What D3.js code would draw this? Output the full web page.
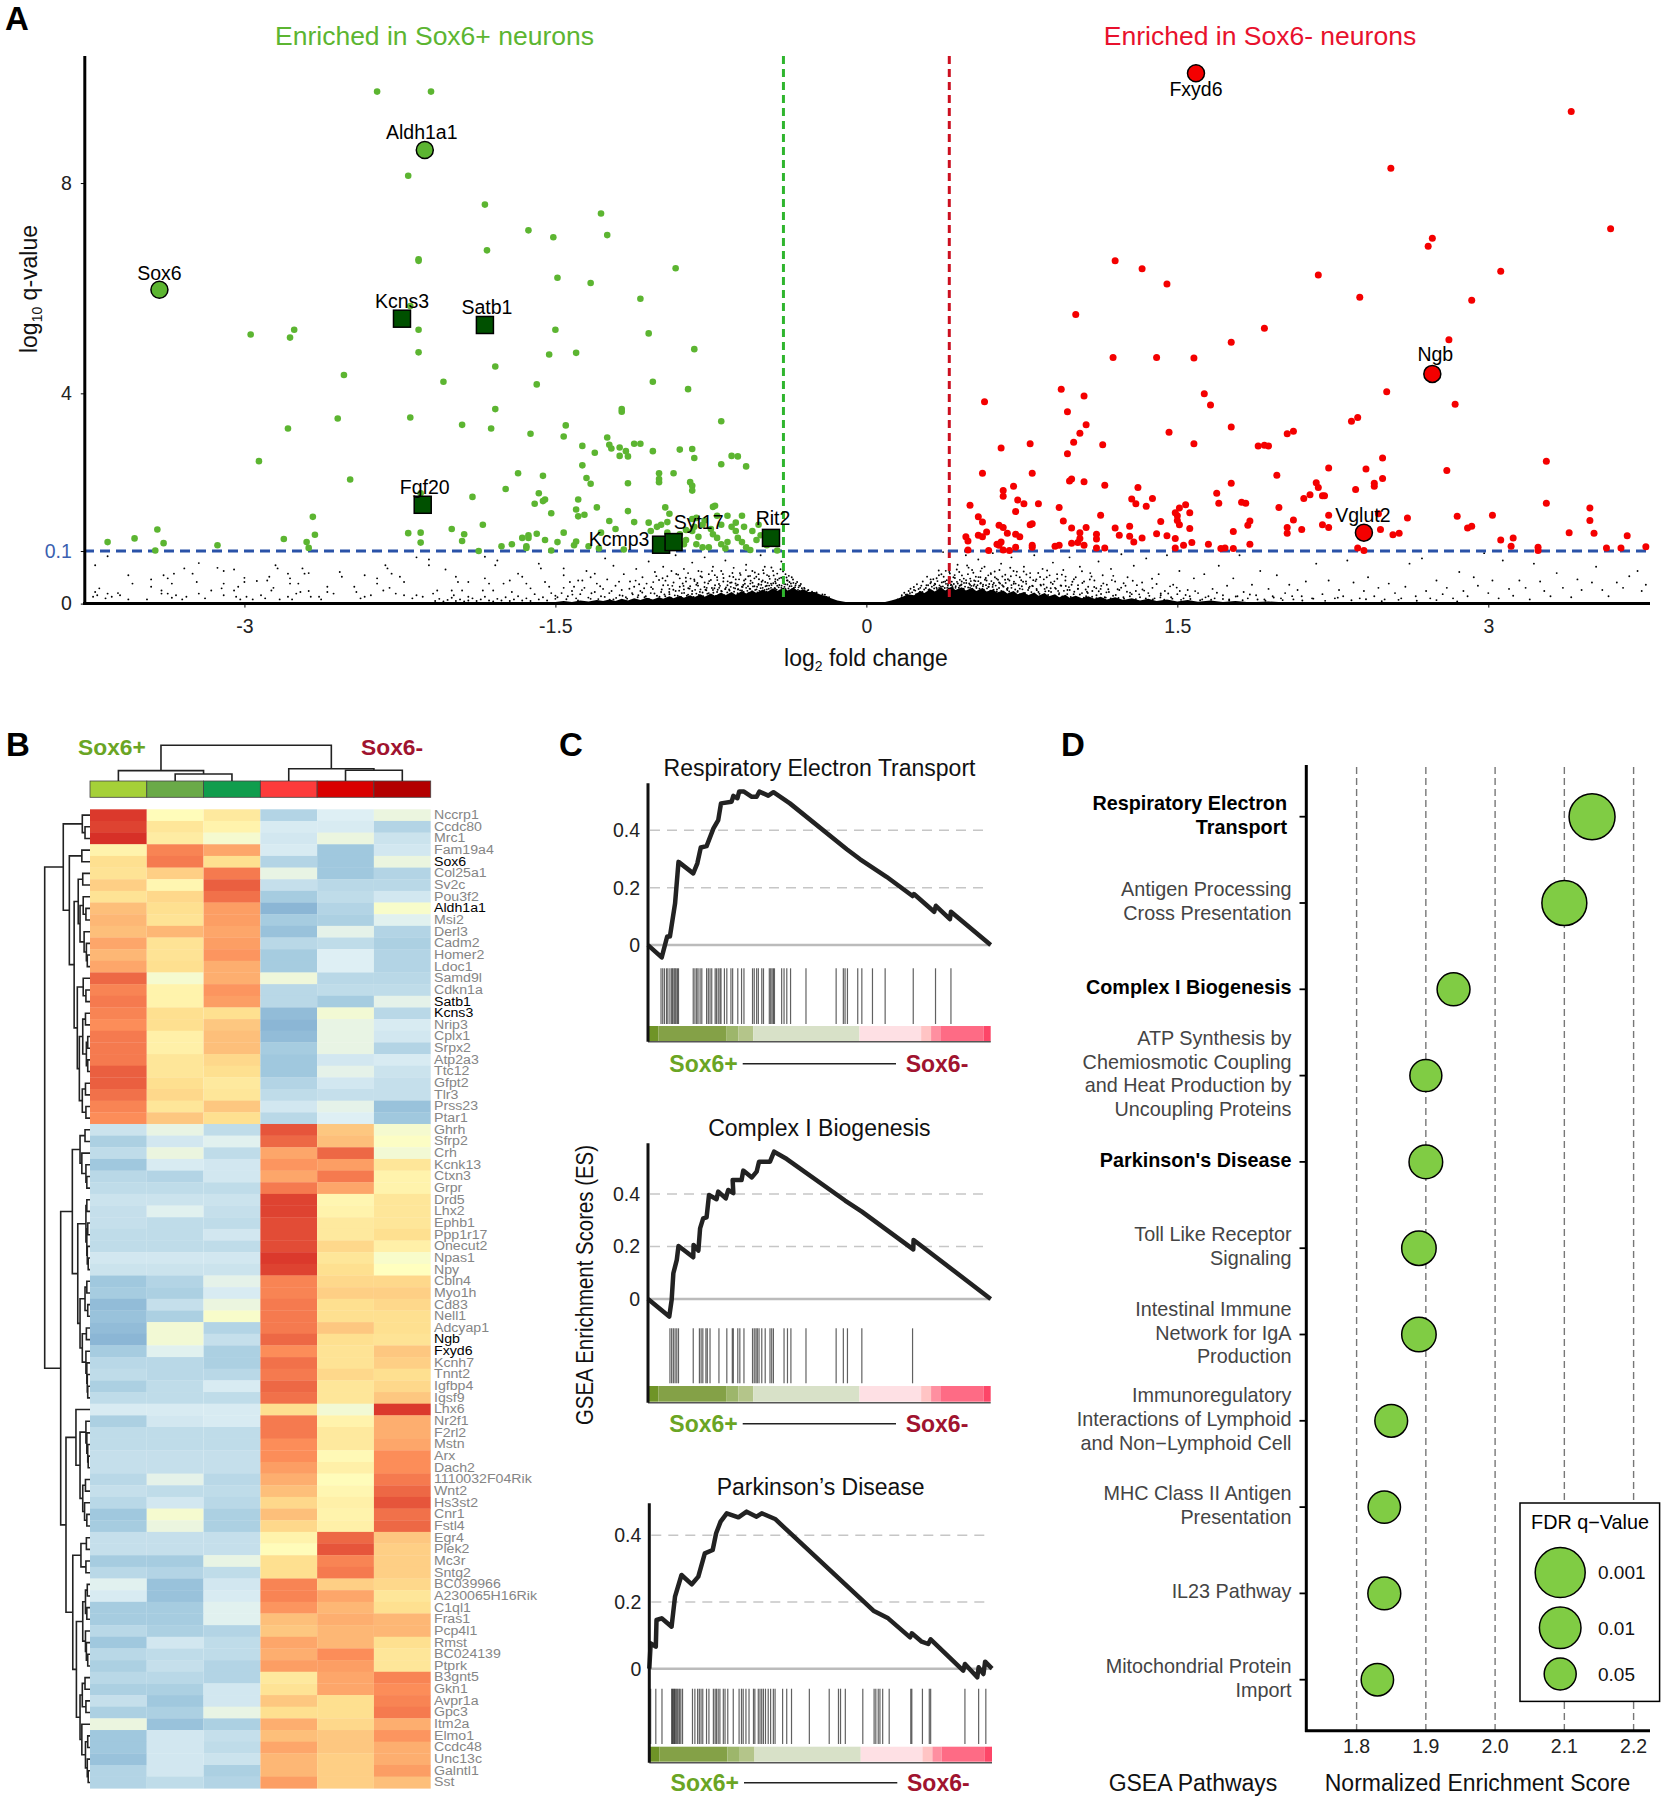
<!DOCTYPE html>
<html><head><meta charset="utf-8">
<script src="https://cdn.jsdelivr.net/npm/d3@7"></script>
<style>html,body{margin:0;background:#fff}svg{display:block}text{font-family:"Liberation Sans",Arial,sans-serif}</style>
</head><body><div id="c"></div>
<script>
// ---------- Panel A data (log2 fold change, log10 q-value) ----------
const greenPoints=[[-2.36,9.74],[-2.10,9.74],[-2.21,8.14],[-1.84,7.59],[-1.28,7.42],[-1.63,7.10],[-1.51,6.97],[-1.25,7.01],[-1.83,6.72],[-2.16,6.55],[-2.16,6.52],[-0.92,6.38],[-1.49,6.20],[-1.33,6.10],[-1.09,5.80],[-2.20,5.66],[-2.16,5.21],[-1.50,5.21],[-1.05,5.14],[-2.76,5.21],[-2.78,5.06],[-2.97,5.12],[-0.83,4.84],[-2.16,4.78],[-1.40,4.77],[-1.53,4.74],[-1.79,4.51],[-2.52,4.35],[-2.04,4.22],[-1.03,4.22],[-1.59,4.17],[-0.86,4.08],[-1.79,3.70],[-1.18,3.70],[-1.18,3.65],[-2.55,3.52],[-2.20,3.54],[-0.70,3.47],[-1.95,3.40],[-1.45,3.39],[-2.79,3.33],[-1.81,3.33],[-1.62,3.23],[-1.46,3.18],[-1.25,3.16],[-1.37,3.00],[-1.24,3.02],[-1.23,2.95],[-1.19,2.97],[-1.12,3.04],[-1.09,3.04],[-1.16,2.90],[-1.03,2.90],[-0.90,2.93],[-0.84,2.94],[-1.31,2.87],[-1.19,2.81],[-1.15,2.80],[-0.83,2.77],[-0.65,2.81],[-0.62,2.80],[-2.93,2.71],[-1.37,2.63],[-0.70,2.65],[-0.58,2.61],[-1.68,2.48],[-1.00,2.48],[-0.93,2.48],[-1.56,2.43],[-1.35,2.39],[-1.00,2.37],[-1.00,2.31],[-1.33,2.28],[-1.15,2.29],[-2.49,2.36],[-0.85,2.31],[-0.84,2.24],[-0.84,2.15],[-1.74,2.18],[-2.15,2.10],[-1.90,2.03],[-1.58,2.10],[-1.39,1.98],[-1.55,1.98],[-1.56,1.95],[-1.60,1.90],[-0.73,1.86],[-0.74,1.84],[-0.97,1.83],[-1.40,1.79],[-1.30,1.83],[-1.15,1.76],[-1.36,1.69],[-1.39,1.66],[-1.52,1.72],[-2.67,1.65],[-0.95,1.71],[-0.60,1.67],[-0.67,1.67],[-1.24,1.57],[-1.12,1.55],[-1.05,1.54],[-0.96,1.55],[-1.85,1.50],[-0.84,1.61],[-0.78,1.58],[-3.42,1.41],[-2.00,1.42],[-2.21,1.34],[-2.15,1.35],[-1.94,1.32],[-2.66,1.31],[-2.81,1.23],[-3.53,1.24],[-3.66,1.17],[-3.39,1.15],[-2.70,1.17],[-2.15,1.16],[-1.95,1.19],[-3.13,1.11],[-2.69,1.06],[-3.43,1.01],[-1.87,1.00],[-1.76,1.09],[-1.71,1.13],[-1.66,1.25],[-1.63,1.30],[-1.63,1.25],[-1.59,1.33],[-1.55,1.21],[-1.64,1.09],[-1.64,1.06],[-1.49,1.17],[-1.46,1.35],[-1.40,1.18],[-1.41,1.11],[-1.52,1.01],[-1.34,1.09],[-1.29,1.05],[-1.28,1.35],[-1.21,1.42],[-1.17,1.03],[-1.04,1.38],[-1.01,1.46],[-0.99,1.50],[-0.96,1.35],[-0.90,1.32],[-0.87,1.21],[-0.84,1.38],[-0.82,1.13],[-0.81,1.27],[-0.79,1.07],[-0.76,1.07],[-0.74,1.32],[-0.72,1.25],[-0.70,1.13],[-0.68,1.05],[-0.67,1.17],[-0.65,1.46],[-0.63,1.38],[-0.62,1.25],[-0.60,1.17],[-0.58,1.07],[-0.56,1.02],[-0.55,1.38],[-0.53,1.21],[-0.51,1.30],[-0.48,1.11],[-0.43,1.01],[-0.82,1.63],[-0.79,1.50],[-0.75,1.42],[-0.70,1.50],[-0.63,1.54],[-0.59,1.46],[-0.72,1.67],[-0.83,1.46],[-0.87,1.40],[-0.92,1.07],[-0.88,1.13],[-0.52,1.50]];
const redPoints=[[3.40,9.36],[2.53,8.28],[3.59,7.13],[2.73,6.95],[2.71,6.80],[1.20,6.52],[1.33,6.37],[1.45,6.08],[2.18,6.25],[3.06,6.32],[2.38,5.83],[2.92,5.77],[1.01,5.50],[1.92,5.24],[1.76,4.97],[2.81,5.02],[1.19,4.68],[1.40,4.68],[1.58,4.67],[0.94,4.08],[2.51,4.03],[1.63,3.99],[1.05,3.95],[0.57,3.84],[1.66,3.78],[2.84,3.79],[0.97,3.65],[2.37,3.54],[2.34,3.47],[1.06,3.40],[1.76,3.36],[1.03,3.24],[1.46,3.26],[2.03,3.23],[2.06,3.28],[1.00,3.07],[0.79,3.04],[0.65,2.96],[1.14,3.02],[1.58,3.04],[1.89,3.00],[1.92,3.01],[1.94,3.00],[0.97,2.85],[2.49,2.77],[3.28,2.71],[2.23,2.58],[2.41,2.56],[2.80,2.53],[0.80,2.48],[0.56,2.48],[1.98,2.44],[2.49,2.38],[0.99,2.37],[0.98,2.33],[1.05,2.32],[1.76,2.29],[2.17,2.30],[2.45,2.29],[2.45,2.23],[2.18,2.21],[1.15,2.25],[0.71,2.23],[1.31,2.21],[0.66,2.15],[0.66,2.04],[2.36,2.17],[1.69,2.10],[2.14,2.07],[2.20,2.05],[2.21,2.05],[2.11,2.00],[1.38,2.00],[1.28,1.99],[0.73,1.97],[1.81,1.93],[1.83,1.91],[3.28,1.91],[0.76,1.90],[0.83,1.90],[1.70,1.91],[1.30,1.90],[1.54,1.88],[1.35,1.85],[0.50,1.87],[0.93,1.83],[1.51,1.82],[1.99,1.83],[3.49,1.82],[1.49,1.73],[1.56,1.73],[0.72,1.75],[2.23,1.68],[3.02,1.68],[1.13,1.68],[2.85,1.66],[0.54,1.65],[1.50,1.67],[1.50,1.58],[2.61,1.63],[2.06,1.59],[3.49,1.58],[1.85,1.57],[1.84,1.49],[1.42,1.56],[0.56,1.55],[0.95,1.57],[0.80,1.52],[0.79,1.50],[1.51,1.50],[2.47,1.71],[2.20,1.50],[2.92,1.47],[2.90,1.44],[1.27,1.47],[2.03,1.45],[0.64,1.49],[0.66,1.45],[0.99,1.44],[1.06,1.45],[2.23,1.45],[1.20,1.44],[1.56,1.43],[2.10,1.41],[2.48,1.41],[0.58,1.36],[1.77,1.37],[3.39,1.35],[2.57,1.34],[3.51,1.34],[0.68,1.34],[2.03,1.34],[0.54,1.30],[0.72,1.32],[1.03,1.35],[1.40,1.33],[2.54,1.31],[1.11,1.32],[1.22,1.30],[0.48,1.27],[0.56,1.27],[0.74,1.27],[1.33,1.25],[1.27,1.28],[1.45,1.29],[3.67,1.29],[3.12,1.25],[1.11,1.23],[1.03,1.24],[1.49,1.24],[3.06,1.21],[0.49,1.19],[0.65,1.17],[1.02,1.16],[0.99,1.15],[1.29,1.17],[1.57,1.16],[1.65,1.13],[1.85,1.13],[0.63,1.13],[0.64,1.11],[0.80,1.11],[0.80,1.07],[0.91,1.09],[0.93,1.11],[1.05,1.11],[1.53,1.11],[3.11,1.09],[3.76,1.08],[3.24,1.07],[3.24,1.01],[1.11,1.06],[1.15,1.06],[0.72,1.07],[1.49,1.06],[1.73,1.06],[1.71,1.05],[1.77,1.05],[3.57,1.06],[3.64,1.06],[2.37,1.06],[2.40,1.01],[0.59,1.01],[0.66,1.02],[0.69,1.01],[0.49,1.02]];
const markedNames=["Sox6","Aldh1a1","Kcns3","Satb1","Fgf20","Kcmp3","Syt17","Rit2","Fxyd6","Ngb","Vglut2"];
const markedFC=[-3.41,-2.13,-2.24,-1.84,-2.14,-0.99,-0.93,-0.46,1.59,2.73,2.40];
const markedQ=[5.97,8.63,5.42,5.30,1.88,1.12,1.17,1.25,10.09,4.37,1.35];
const markedGroup=["gc","gc","gs","gs","gs","gs","gs","gs","rc","rc","rc"];
const moundLeftFC=[-1.6,-1.5,-1.46,-1.42,-1.38,-1.34,-1.3,-1.27,-1.24,-1.21,-1.18,-1.15,-1.12,-1.09,-1.06,-1.03,-1,-.98,-.95,-.93,-.9,-.88,-.85,-.83,-.8,-.78,-.75,-.73,-.7,-.68,-.65,-.63,-.6,-.58,-.55,-.53,-.5,-.48,-.45,-.43,-.4,-.38,-.35,-.33,-.3,-.28,-.25,-.22,-.2,-.17,-.14,-.1,-.05,0];
const moundLeftQ=[.02,.03,.05,.03,.06,.04,.07,.05,.08,.05,.09,.06,.1,.07,.11,.08,.12,.09,.14,.1,.15,.11,.16,.12,.18,.13,.19,.15,.21,.16,.22,.17,.24,.19,.25,.2,.27,.22,.29,.24,.3,.25,.3,.24,.27,.22,.22,.17,.15,.1,.06,.03,.012,.006];
const moundRightFC=[0,.05,.09,.12,.15,.18,.2,.23,.26,.28,.31,.33,.36,.38,.41,.43,.46,.48,.51,.53,.56,.58,.61,.63,.66,.68,.71,.73,.76,.78,.81,.83,.86,.88,.91,.93,.96,.98,1.01,1.04,1.07,1.1,1.13,1.16,1.2,1.24,1.28,1.32,1.36,1.4,1.45,1.5,1.55,1.6,1.66,1.72,1.78,1.85,1.94,2.05,2.2,2.4,2.63];
const moundRightQ=[.006,.012,.03,.06,.09,.14,.18,.16,.24,.2,.28,.23,.31,.25,.32,.26,.31,.25,.3,.24,.29,.23,.27,.21,.25,.19,.24,.18,.22,.16,.21,.15,.2,.14,.18,.12,.17,.11,.15,.1,.14,.09,.13,.08,.12,.07,.1,.06,.09,.05,.08,.04,.07,.035,.06,.03,.05,.025,.04,.015,.025,.012,.01];
const blackDots=[-3.72,.73,-3.66,.9,-3.7,.29,-3.72,.22,-3.71,.16,-3.73,.13,-3.67,.1,-3.66,.19,-3.64,.13,-3.61,.2,-3.6,.16,-3.56,.08,-3.56,.54,-3.54,.38,-3.47,.08,-3.45,.32,-3.45,.46,-3.4,.25,-3.4,.19,-3.39,.54,-3.37,.48,-3.34,.57,-3.35,.38,-3.37,.19,-3.35,.11,-3.33,.16,-3.3,.08,-3.29,.67,-3.28,.13,-3.25,.57,-3.23,.41,-3.22,.77,-3.22,.19,-3.19,.1,-3.16,.25,-3.13,.68,-3.1,.62,-3.05,.65,-3.11,.29,-3.1,.38,-3.1,.16,-3.05,.25,-3.03,.32,-3.04,.13,-3.02,.08,-3,.49,-3,.41,-2.99,.13,-2.96,.08,-2.94,.43,-2.92,.16,-2.89,.44,-2.88,.51,-2.87,.25,-2.85,.73,-2.84,.67,-2.86,.3,-2.9,.1,-2.83,.08,-2.79,.57,-2.78,.48,-2.78,.38,-2.74,.38,-2.75,.19,-2.79,.13,-2.77,.08,-2.72,.67,-2.71,.57,-2.69,.58,-2.73,.22,-2.69,.24,-2.68,.13,-2.64,.13,-2.63,.08,-2.6,.32,-2.6,.22,-2.57,.19,-2.54,.6,-2.53,.51,-2.47,.32,-2.46,.22,-2.44,.1,-2.42,.54,-2.42,.13,-2.36,.48,-2.36,.38,-2.39,.16,-2.33,.25,-2.32,.73,-2.31,.67,-2.29,.57,-2.3,.3,-2.27,.19,-2.25,.51,-2.23,.41,-2.23,.16,-2.19,.1,-2.17,.88,-2.11,.84,-2.11,.73,-2.17,.16,-2.14,.13,-2.09,.19,-2.07,.25,-2.03,.65,-1.98,.51,-1.97,.41,-2,.25,-1.99,.16,-1.95,.25,-1.92,.13,-1.92,.41,-1.84,.89,-1.78,.82,-1.79,.73,-1.84,.48,-1.82,.38,-1.85,.25,-1.8,.25,-1.75,.38,-1.72,.44,-1.68,.57,-1.66,.51,-1.64,.38,-1.71,.22,-1.62,.29,-1.58,.76,-1.57,.67,-1.55,.41,-1.53,.32,-1.5,.15,-1.46,.67,-1.46,.54,-1.43,.41,-1.41,.32,-1.37,.44,-1.31,.57,
-2.08,.05,-2.06,.09,-2.04,.04,-2.02,.07,-2,.11,-1.98,.05,-1.96,.08,-1.94,.04,-1.92,.06,-1.9,.1,-1.88,.05,-1.86,.08,-1.84,.13,-1.82,.06,-1.8,.04,-1.78,.09,-1.76,.06,-1.74,.12,-1.72,.05,-1.7,.08,-1.68,.14,-1.66,.06,-1.64,.1,-1.62,.05,-1.6,.18,-1.58,.08,-1.56,.12,-1.54,.06,-1.52,.2,-1.5,.09,
-1.49,.12,-1.47,.2,-1.46,.3,-1.44,.14,-1.42,.24,-1.4,.1,-1.39,.44,-1.38,.18,-1.36,.3,-1.35,.62,-1.33,.09,-1.33,.5,-1.31,.22,-1.3,.38,-1.28,.14,-1.27,.28,-1.26,.86,-1.25,.46,-1.24,.2,-1.22,.08,-1.22,.72,-1.21,.34,-1.19,.16,-1.18,.26,-1.17,.56,-1.16,.12,-1.14,.42,-1.13,.2,-1.12,.32,-1.11,.66,-1.1,.16,-1.09,.24,-1.08,.5,-1.07,.12,-1.06,.38,-1.05,.8,-1.04,.2,-1.03,.28,-1.02,.6,-1.01,.15,-1,.45,
-.99,.22,-.98,.7,-.98,.35,-.97,.14,-.96,.52,-.95,.28,-.95,.18,-.94,.62,-.93,.4,-.92,.24,-.92,.92,-.91,.15,-.9,.48,-.9,.32,-.89,.2,-.88,.66,-.88,.27,-.87,.42,-.86,.17,-.86,.58,-.85,.33,-.84,.24,-.84,.78,-.83,.46,-.82,.19,-.82,.36,-.81,.62,-.8,.27,-.8,.52,-.79,.21,-.78,.4,-.78,.88,-.77,.3,-.76,.56,-.76,.2,-.75,.45,-.74,.26,-.74,.7,-.73,.35,-.72,.22,-.72,.5,-.71,.3,-.7,.62,-.7,.24,-.69,.42,-.68,.28,-.68,.82,-.67,.35,-.66,.52,-.66,.25,-.65,.4,-.64,.3,-.64,.68,-.63,.46,-.62,.27,-.62,.36,-.61,.58,-.6,.32,-.6,.25,-.59,.44,-.58,.74,-.58,.3,-.57,.52,-.56,.28,-.56,.38,-.55,.62,-.54,.33,-.54,.48,-.53,.27,-.52,.56,-.52,.36,-.51,.92,-.5,.3,-.5,.44,-.49,.7,-.48,.34,-.48,.27,-.47,.52,-.46,.38,-.46,.3,-.45,.62,-.44,.42,-.44,.28,-.43,.34,-.42,.48,-.41,.3,-.41,.8,-.4,.38,-.39,.56,-.39,.28,-.38,.44,-.37,.33,-.36,.27,-.36,.5,-.35,.3,-.34,.38,-.33,.26,-.32,.34,-.31,.24,-.3,.3,-.29,.22,-.28,.26,-.26,.18,-.24,.21,-.22,.15,-.2,.17,-.18,.12,
.15,.08,.17,.12,.19,.17,.21,.2,.23,.26,.24,.18,.26,.3,.27,.22,.29,.35,.3,.26,.31,.46,.33,.38,.34,.28,.35,.54,.36,.32,.37,.98,.38,.42,.39,.3,.4,.6,.41,.36,.42,.5,.43,.3,.44,.74,.45,.34,.46,.42,.47,.28,.48,.92,.49,.56,.5,.36,.5,.3,.51,.64,.52,.44,.53,.32,.54,.84,.55,.38,.55,.5,.56,.28,.57,.7,.58,.44,.59,.32,.6,.58,.61,.36,.61,.96,.62,.5,.63,.27,.64,.4,.65,.76,.66,.33,.67,.55,.68,.26,.69,.44,.7,.88,.7,.3,.71,.62,.72,.38,.73,.24,.74,.5,.75,.33,.76,.7,.77,.42,.78,.26,.79,.58,.8,.34,.81,.92,.82,.46,.83,.22,.84,.36,.85,.66,.86,.28,.87,.5,.88,.24,.89,.4,.9,.78,.91,.3,.92,.56,.93,.2,.94,.34,.95,.64,.96,.44,.97,.26,.98,.88,.99,.36,1,.18,1.01,.5,1.02,.28,1.03,.7,1.04,.2,1.05,.42,1.06,.14,1.07,.32,1.08,.58,1.09,.24,1.1,.44,1.11,.16,1.12,.8,1.13,.28,1.14,.54,1.15,.12,1.16,.36,1.17,.22,1.18,.66,1.19,.15,1.2,.42,1.22,.26,1.23,.94,1.24,.12,1.25,.34,1.26,.5,1.28,.18,1.29,.72,1.3,.24,1.32,.12,1.33,.4,1.35,.86,1.36,.2,1.38,.3,1.39,.1,1.41,.56,1.42,.16,1.44,.24,1.45,.92,1.47,.12,1.48,.36,1.5,.18,1.51,.62,1.53,.1,1.55,.26,1.56,.14,1.58,.48,1.6,.2,1.62,.08,1.63,.56,1.65,.14,1.67,.28,1.68,.1,1.7,.72,1.72,.16,1.74,.34,1.75,.08,1.77,.48,1.79,.14,1.8,.92,1.82,.22,1.84,.1,1.86,.36,1.88,.16,1.9,.62,1.92,.08,1.94,.28,1.96,.14,1.98,.54,2,.1,2.02,.2,2.04,.36,2.06,.08,2.08,.26,2.1,.14,2.12,.42,2.15,.1,2.17,.76,2.2,.18,2.23,.44,2.26,.1,2.28,.26,2.3,.14,2.32,.82,2.35,.4,2.38,.1,2.4,.24,2.42,.5,2.45,.14,2.47,.3,2.5,.08,2.52,.38,2.55,.2,2.58,.1,2.6,.32,2.62,.76,2.65,.14,2.68,.86,2.7,.24,2.72,.1,2.75,.44,2.78,.18,2.8,.3,2.83,.1,2.86,.6,2.88,.24,2.9,.14,2.93,.5,2.95,.34,2.98,.96,3,.2,3.02,.44,3.05,.1,3.07,.82,3.1,.28,3.12,.15,3.15,.44,3.18,.3,3.2,.08,3.22,.76,3.25,.42,3.27,.24,3.3,.14,3.33,.58,3.36,.3,3.4,.12,3.43,.46,3.45,.26,3.5,.4,3.52,.7,3.55,.26,3.58,.14,3.62,.4,3.65,.3,3.68,.52,3.72,.62,3.74,.24,3.76,.36,-.95,.1,-.9,.12,-.85,.1,-.8,.14,-.75,.14,-.7,.16,-.65,.18,-.6,.2];
const blackDotsDense=[-1.447,.083,-1.418,.171,-1.391,.062,-1.372,.257,-1.341,.114,-1.326,.197,-1.293,.086,-1.284,.331,-1.262,.127,-1.238,.073,-1.229,.241,-1.207,.108,-1.193,.418,-1.176,.149,-1.154,.094,-1.143,.283,-1.127,.176,-1.103,.121,-1.096,.367,-1.081,.211,-1.064,.139,-1.049,.088,-1.038,.313,-1.022,.192,-1.013,.522,-.998,.131,-.987,.268,-.974,.173,-.969,.437,-.951,.221,-.943,.112,-.936,.338,-.924,.157,-.917,.563,-.903,.246,-.894,.128,-.886,.381,-.879,.204,-.866,.148,-.859,.293,-.848,.476,-.841,.183,-.833,.127,-.826,.262,-.815,.391,-.808,.166,-.803,.223,-.795,.609,-.787,.141,-.781,.317,-.772,.254,-.767,.189,-.758,.428,-.752,.161,-.745,.298,-.738,.206,-.731,.541,-.726,.147,-.717,.264,-.711,.372,-.703,.184,-.697,.233,-.689,.487,-.684,.158,-.677,.309,-.671,.213,-.662,.268,-.657,.396,-.651,.176,-.646,.582,-.638,.227,-.633,.289,-.627,.346,-.621,.198,-.614,.461,-.609,.252,-.603,.171,-.597,.318,-.592,.221,-.586,.379,-.581,.637,-.574,.243,-.569,.198,-.563,.283,-.558,.436,-.552,.231,-.547,.327,-.541,.187,-.536,.261,-.531,.512,-.526,.214,-.52,.372,-.516,.243,-.51,.294,-.505,.417,-.5,.203,-.495,.576,-.491,.258,-.486,.331,-.481,.226,-.476,.394,-.471,.283,-.466,.471,-.461,.246,-.457,.352,-.451,.221,-.447,.536,-.442,.298,-.437,.387,-.433,.264,-.428,.451,-.423,.309,-.418,.247,-.414,.653,-.409,.341,-.404,.276,-.399,.426,-.395,.318,-.39,.257,-.385,.497,-.381,.362,-.376,.288,-.371,.411,-.366,.246,-.361,.333,-.356,.281,-.352,.394,-.347,.256,-.342,.347,-.337,.226,-.327,.309,-.322,.241,-.316,.372,-.308,.253,-.298,.284,-.291,.217,-.284,.247,-.272,.206,-.262,.226,-.253,.178,-.243,.194,-.231,.153,-.212,.173,-.191,.126,
.171,.158,.183,.207,.196,.176,.204,.241,.213,.283,.221,.214,.229,.316,.236,.247,.244,.368,.252,.277,.258,.221,.265,.341,.272,.421,.279,.268,.287,.296,.293,.513,.298,.348,.304,.274,.309,.388,.316,.322,.323,.463,.327,.289,.332,.367,.338,.304,.343,.428,.349,.629,.353,.346,.358,.283,.364,.403,.369,.327,.373,.511,.378,.298,.384,.376,.388,.446,.393,.341,.398,.287,.403,.572,.407,.352,.412,.418,.417,.296,.422,.374,.427,.487,.431,.329,.436,.648,.441,.383,.446,.301,.451,.452,.456,.348,.461,.536,.466,.283,.471,.394,.476,.322,.481,.443,.486,.726,.491,.307,.496,.381,.501,.476,.506,.338,.511,.279,.516,.587,.521,.363,.526,.428,.531,.298,.536,.351,.541,.504,.546,.282,.552,.391,.557,.671,.562,.331,.567,.266,.572,.454,.577,.351,.582,.289,.588,.537,.593,.373,.598,.246,.603,.428,.609,.318,.614,.264,.619,.612,.624,.342,.629,.229,.635,.453,.64,.296,.645,.383,.651,.241,.656,.516,.662,.322,.667,.206,.672,.394,.678,.278,.683,.463,.689,.231,.694,.681,.7,.352,.706,.192,.712,.416,.718,.268,.723,.537,.729,.223,.735,.349,.741,.181,.747,.443,.753,.271,.759,.612,.765,.204,.771,.376,.777,.156,.784,.298,.79,.498,.796,.219,.803,.332,.809,.171,.816,.428,.822,.256,.829,.583,.835,.186,.842,.344,.849,.147,.856,.461,.863,.233,.87,.306,.877,.163,.884,.537,.891,.221,.899,.373,.906,.141,.914,.283,.921,.472,.929,.176,.937,.346,.945,.134,.953,.243,.961,.514,.969,.181,.977,.314,.986,.126,.994,.417,1.003,.226,1.012,.118,1.021,.351,1.03,.173,1.04,.614,1.049,.112,1.058,.268,1.068,.203,1.078,.458,1.089,.131,1.099,.317,1.11,.104,1.121,.236,1.132,.182,1.143,.384,1.155,.114,1.167,.272,1.179,.097,1.191,.528,1.203,.164,1.216,.107,1.229,.303,1.243,.091,1.257,.224,1.271,.141,1.285,.436,1.3,.086,1.316,.176,1.332,.268,1.348,.096,1.365,.147,1.382,.081,1.4,.372,1.418,.118,1.437,.076,1.456,.191,1.476,.094,1.497,.304,1.518,.071,1.54,.163,1.563,.087,1.586,.238,1.61,.065,1.636,.119,1.663,.072,1.691,.206,1.72,.087,1.75,.058,1.782,.134,1.815,.064,1.85,.173,1.887,.079,1.925,.053,1.965,.116,2.008,.067,2.054,.142,2.103,.058,2.156,.094,2.213,.052,2.274,.113,2.34,.063,2.41,.082,2.486,.046,2.567,.071,2.655,.054,2.75,.067,2.85,.041];
const blackDotsUpper=[-1.113,.438,-1.072,.291,-1.028,.409,-.983,.481,-.957,.352,-.931,.264,-.908,.551,-.882,.337,-.871,.493,-.853,.284,-.829,.429,-.812,.341,-.793,.502,-.776,.263,-.763,.384,-.744,.622,-.733,.291,-.719,.447,-.706,.338,-.692,.561,-.681,.276,-.669,.423,-.654,.319,-.642,.507,-.631,.383,-.618,.274,-.607,.546,-.594,.353,-.583,.462,-.571,.329,-.561,.527,-.549,.398,-.538,.592,-.527,.321,-.518,.463,-.507,.358,-.498,.636,-.488,.411,-.479,.542,-.469,.342,-.458,.688,-.449,.387,-.439,.466,-.43,.571,-.42,.353,-.411,.492,-.402,.613,-.392,.367,-.383,.441,-.374,.528,-.364,.381,-.354,.459,-.344,.313,-.334,.412,-.324,.342,-.311,.293,
.312,.412,.326,.347,.339,.481,.351,.297,.362,.557,.372,.413,.383,.623,.394,.372,.404,.489,.415,.333,.426,.542,.437,.414,.448,.601,.459,.362,.47,.476,.482,.392,.493,.684,.504,.428,.517,.338,.528,.513,.54,.427,.551,.618,.563,.361,.576,.486,.589,.319,.601,.561,.615,.393,.628,.476,.642,.638,.655,.352,.669,.453,.682,.297,.697,.519,.711,.378,.726,.608,.74,.284,.756,.417,.772,.553,.788,.323,.805,.446,.821,.278,.838,.506,.855,.362,.872,.631,.889,.291,.907,.423,.925,.242,.943,.551,.962,.334,.981,.258,1.001,.463,1.021,.284,1.042,.393,1.064,.226,1.086,.516,1.109,.293,1.133,.338,1.158,.214,1.184,.447,1.212,.273,1.241,.386,1.272,.208,1.305,.351,1.34,.247,1.378,.472,1.42,.193,1.465,.328,1.512,.241];
const yTickValues=[0,1,4,8],yTickLabels=["0","0.1","4","8"],xTickValues=[-3,-1.5,0,1.5,3],xTickLabels=["-3","-1.5","0","1.5","3"];
const cutoffFC=[-0.4,0.4],cutoffQ=1;

// ---------- Panel B data ----------
const genes=["Nccrp1","Ccdc80","Mrc1","Fam19a4","Sox6","Col25a1","Sv2c","Pou3f2","Aldh1a1","Msi2","Derl3","Cadm2","Homer2","Ldoc1","Samd9l","Cdkn1a","Satb1","Kcns3","Nrip3","Cplx1","Srpx2","Atp2a3","Ttc12","Gfpt2","Tlr3","Prss23","Ptar1","Ghrh","Sfrp2","Crh","Kcnk13","Ctxn3","Grpr","Drd5","Lhx2","Ephb1","Ppp1r17","Onecut2","Npas1","Npy","Cbln4","Myo1h","Cd83","Nell1","Adcyap1","Ngb","Fxyd6","Kcnh7","Tnnt2","Igfbp4","Igsf9","Lhx6","Nr2f1","F2rl2","Mstn","Arx","Dach2","1110032F04Rik","Wnt2","Hs3st2","Cnr1","Fstl4","Egr4","Plek2","Mc3r","Sntg2","BC039966","A230065H16Rik","C1ql1","Fras1","Pcp4l1","Rmst","BC024139","Ptprk","B3gnt5","Gkn1","Avpr1a","Gpc3","Itm2a","Elmo1","Ccdc48","Unc13c","Galntl1","Sst"];
const highlightedGenes=["Sox6","Aldh1a1","Satb1","Kcns3","Ngb","Fxyd6"];
const heatValues=[[2.9,0.1,0.7,-1.7,-1,-0.6],[2.8,0.8,0.4,-1.1,-1.1,-1.7],[3,0.6,-0.3,-1.2,-0.6,-1.3],[0.4,2.1,1.7,-1.1,-2,-1.2],[1,2.2,1,-1.7,-2,-0.6],[0.9,1.2,2.2,-0.7,-2,-1.7],[1.2,0.3,2.5,-1.4,-1.6,-1.6],[0.9,1.1,2.3,-1.9,-1.5,-1.2],[1.4,1,1.8,-2.3,-1.7,-0.2],[1.5,0.9,1.8,-1.9,-1.8,-0.9],[1.4,1.5,1.7,-2.1,-0.8,-1.7],[1.7,0.9,1.8,-1.6,-1.5,-1.8],[1.5,0.9,1.9,-1.9,-1,-1.7],[1.7,1,1.6,-1.9,-1,-1.7],[2.4,-0.3,1.6,-0.5,-1.6,-1.6],[2.1,0.4,1.9,-1.6,-1.5,-1.5],[2.2,0.4,1.8,-1.6,-1.9,-0.8],[2.1,1,1,-2.2,-0.4,-1.6],[2,1,1.3,-2.3,-0.7,-1.1],[2.2,0.5,1.4,-2.2,-0.7,-1.2],[2.2,0.5,1.4,-1.9,-0.7,-1.7],[2.2,0.8,1.1,-2,-1.2,-1.1],[2.5,0.8,1,-2,-0.8,-1.3],[2.5,1,0.7,-1.7,-1.2,-1.4],[2.3,1.1,0.8,-1.5,-1.4,-1.4],[2.1,0.8,1.3,-1.2,-0.8,-2.1],[2,1.3,1,-1.6,-1,-2],[-1.3,-0.7,-1.5,2.6,1.3,-0.3],[-1.8,-1.2,-0.9,2.4,1.4,-0.1],[-1.5,-0.6,-1.5,1.7,2.4,-0.4],[-2,-1.1,-1.2,1.9,1.8,0.8],[-1.6,-1.7,-1.2,1.7,2.2,0.4],[-1.5,-1.5,-1.5,2.2,1.7,0.4],[-1.3,-1.3,-1.3,2.8,0.3,0.8],[-1.4,-0.9,-1.4,2.8,0.4,0.8],[-1.4,-1.5,-1.5,2.7,0.7,0.8],[-1.5,-1.5,-1.2,2.7,0.7,1],[-1.5,-1.5,-1.5,2.7,1.1,0.5],[-1.2,-1.2,-1.2,2.9,0.8,-0.2],[-1.3,-1.3,-1.3,2.8,1,0],[-2,-1.7,-0.8,2.1,1.1,1.1],[-1.9,-1.8,-1.1,2.1,1.2,1.2],[-2.2,-1.4,-0.6,2.2,1,1.1],[-2.1,-1.8,-0.2,2.2,1,1],[-2.2,-0.4,-1.7,2.2,1.3,1],[-2.3,-0.4,-1.4,2.4,1,0.9],[-1.9,-0.9,-1.8,2,0.9,1.3],[-1.6,-1.6,-1.8,2.3,0.9,1.2],[-1.5,-1.6,-1.6,2.2,1.1,1],[-1.8,-1.5,-1.1,2.4,0.8,1.1],[-1.5,-1.5,-1.5,2.3,0.8,1.3],[-1.1,-1.1,-1.1,1,-0.4,2.9],[-1.8,-1.2,-1.1,2.2,0.4,1.6],[-1.5,-1.5,-1.5,2.2,0.7,1.6],[-1.5,-1.5,-1.5,2,0.7,1.7],[-1.4,-1.4,-1.4,2,0.2,2],[-1.4,-1.4,-1.4,1.8,0.5,2],[-1.6,-0.8,-1.6,1.6,0.1,2.2],[-1.4,-1.5,-1.5,1.4,0.3,2.4],[-1.6,-1.2,-1.6,1.1,0.5,2.6],[-2,-0.3,-1.8,1.4,0.4,2.3],[-1.9,-0.6,-1.8,1.1,0.5,2.4],[-1.4,-1.4,-1.4,0.4,2.4,1.3],[-1.4,-1.4,-1.4,0.1,2.6,1.2],[-1.9,-1.9,-0.7,1,2.1,1.2],[-1.6,-1.7,-1.5,1,2.2,1.2],[-0.9,-2.1,-1.2,2.1,1.2,1.1],[-1.1,-2.1,-1.1,2.1,1.7,0.8],[-1.9,-1.9,-0.9,1.9,1.5,1],[-1.9,-1.9,-0.9,1.4,1.6,1.5],[-1.6,-1.8,-1.7,1.3,1.5,1.5],[-2,-1.2,-1.5,1.7,1.5,1],[-1.6,-1.5,-1.5,1.6,2,0.8],[-1.8,-1.4,-1.7,1.8,1.8,0.8],[-1.6,-1.6,-1.7,0.7,1.7,2.1],[-1.8,-1.8,-1.2,0.9,1.7,2],[-1.4,-2,-1.2,1.3,1,2.1],[-1.8,-1.8,-0.7,1,1,2.2],[-0.6,-2.1,-1.8,1.6,1.1,1.6],[-2,-1.2,-1.4,1.4,1.3,1.9],[-2,-1.2,-1.5,1.7,1.3,1.6],[-2.1,-1.2,-1.3,1.5,1.2,1.6],[-1.7,-1.2,-1.8,1.5,1.2,1.8],[-1.7,-1.5,-1.7,1.8,1.2,1.4]];
const heatDomain=[-3,-2,-1,0,1,2,3],heatColors=["#5a8bc0","#a0c8de","#deeff4","#ffffbf","#fee090","#fc8d59","#d73027"];
const sampleColors=["#a5d038","#6aaa48","#109d4d","#fd3b3b","#d90000","#b30000"];
const sampleTree=[1,[.29,0,[.196,1,2]],[.345,3,[.3,4,5]]];
const rowTree=[1,
 [.59,[.17,0,[.11,1,2]],
  [.456,[.18,3,4],
   [.35,
    [.26,[.16,5,6],[.22,[.15,7,[.09,8,9]],[.13,10,[.08,11,[.06,12,13]]]]],
    [.28,[.15,14,[.09,15,16]],[.235,[.16,[.1,17,18],[.08,[.05,19,20],[.05,21,22]]],[.17,[.1,23,24],[.09,25,26]]]]]]],
 [.647,
  [.39,
   [.22,[.11,27,28],[.18,29,[.09,30,[.07,31,32]]]],
   [.27,[.09,[.07,33,34],[.07,[.05,35,36],[.06,37,[.04,38,39]]]],
    [.22,[.11,[.07,40,41],[.05,42,43]],[.17,[.08,44,45],[.09,46,[.07,47,[.06,48,[.05,49,50]]]]]]]],
  [.53,
   [.31,51,[.22,[.09,52,[.07,53,[.05,54,[.04,55,56]]]],[.16,[.1,57,58],[.12,59,[.07,60,61]]]]],
   [.38,[.2,[.08,62,63],[.09,64,65]],
    [.3,[.16,[.1,[.06,66,67],[.07,68,69]],[.1,70,[.08,71,[.05,72,73]]]],
     [.22,[.17,[.11,74,75],[.09,76,77]],[.18,78,[.1,[.05,79,80],[.06,81,[.04,82,83]]]]]]]]]];

// ---------- Panel C data (fraction of ranked list, enrichment score) ----------
const gseaNames=["Respiratory Electron Transport","Complex I Biogenesis","Parkinson’s Disease"];
const esRespRank=[0,.04,.056,.064,.079,.089,.132,.144,.154,.171,.191,.205,.213,.244,.249,.261,.266,.28,.303,.317,.325,.351,.366,.414,.58,.619,.696,.772,.776,.835,.84,.881,.884,1];
const esRespVal=[0,-.043,.03,.03,.145,.29,.25,.285,.34,.345,.407,.436,.494,.5,.52,.512,.535,.535,.517,.517,.535,.521,.533,.494,.334,.299,.238,.171,.178,.116,.137,.09,.116,0];
const esComplexRank=[0,.062,.069,.074,.084,.089,.132,.133,.147,.152,.161,.171,.178,.2,.205,.227,.234,.249,.247,.273,.278,.303,.317,.324,.356,.368,.405,.575,.624,.774,.775,1];
const esComplexVal=[0,-.067,-.004,.098,.149,.202,.159,.206,.184,.269,.307,.311,.396,.38,.409,.383,.415,.403,.453,.453,.489,.463,.485,.523,.523,.561,.533,.375,.333,.189,.225,0];
const esParkRank=[0,.004,.019,.021,.036,.065,.075,.094,.124,.143,.162,.185,.195,.208,.226,.26,.284,.313,.328,.367,.42,.654,.697,.761,.766,.795,.814,.821,.916,.921,.957,.961,.975,.98,1];
const esParkVal=[0,.076,.066,.146,.151,.126,.216,.281,.253,.276,.346,.356,.406,.441,.466,.454,.471,.456,.466,.449,.398,.174,.151,.094,.106,.081,.074,.088,-.006,.014,-.026,.004,-.016,.021,0];
const hitsResp=[.038,.043,.048,.054,.058,.064,.069,.072,.076,.079,.082,.086,.089,.132,.137,.142,.146,.152,.157,.171,.176,.181,.186,.196,.2,.205,.21,.213,.223,.23,.242,.247,.262,.273,.28,.305,.31,.317,.322,.332,.337,.354,.358,.362,.366,.369,.39,.397,.405,.416,.461,.549,.57,.575,.582,.612,.624,.655,.692,.774,.839,.884];
const hitsComplex=[.064,.069,.074,.079,.084,.089,.132,.15,.155,.16,.169,.173,.181,.207,.23,.246,.249,.262,.268,.28,.305,.31,.315,.319,.324,.332,.342,.356,.361,.366,.397,.407,.417,.461,.549,.57,.582,.624,.772];
const hitsPark=[.004,.019,.037,.065,.068,.07,.073,.075,.078,.081,.084,.088,.092,.097,.126,.133,.141,.146,.151,.156,.167,.174,.187,.192,.196,.201,.206,.216,.221,.229,.245,.262,.269,.274,.282,.291,.304,.308,.318,.323,.328,.333,.339,.347,.354,.362,.367,.389,.401,.415,.467,.525,.552,.558,.572,.623,.656,.661,.668,.673,.681,.7,.763,.766,.797,.817,.821,.921,.961,.982];
const rankBreaks=[0,.03,.228,.264,.307,.617,.797,.826,.853,.979,1];
const rankColors=["#6f9427","#84a147","#9db66b","#b4c58a","#d8e1c8","#fee0e4","#ffc4c4","#fe8fa0","#fe6b85","#fd4668"];
const esTicks=[0,.2,.4],esTickLabels=["0","0.2","0.4"];

// ---------- Panel D data ----------
const pathways=[["Respiratory Electron","Transport"],["Antigen Processing","Cross Presentation"],["Complex I Biogenesis"],["ATP Synthesis by","Chemiosmotic Coupling","and Heat Production by","Uncoupling Proteins"],["Parkinson's Disease"],["Toll Like Receptor","Signaling"],["Intestinal Immune","Network for IgA","Production"],["Immunoregulatory","Interactions of Lymphoid","and Non−Lymphoid Cell"],["MHC Class II Antigen","Presentation"],["IL23 Pathway"],["Mitochondrial Protein","Import"]];
const boldPathways=[0,2,4];
const nes=[2.14,2.10,1.94,1.90,1.90,1.89,1.89,1.85,1.84,1.84,1.83];
const fdrQ=[.003,.004,.043,.05,.038,.033,.033,.044,.047,.043,.047];
const legendQ=[.001,.01,.05],legendQLabels=["0.001","0.01","0.05"];
const nesTicks=[1.8,1.9,2.0,2.1,2.2];

// ---------- Drawing ----------
const svg=d3.select("#c").append("svg").attr("width",1666).attr("height",1800);
function txt(g,s,x,y,size,o={}){const t=g.append("text").attr("x",x).attr("y",y).attr("font-size",size).attr("text-anchor",o.anchor||"middle").attr("fill",o.fill||"#111").attr("font-weight",o.weight||"normal").text(s);if(o.rotate!=null)t.attr("transform",`rotate(${o.rotate} ${x} ${y})`);return t;}
[["A",5,30],["B",6,756],["C",559,756],["D",1061,756]].forEach(d=>txt(svg,d[0],d[1],d[2],33,{anchor:"start",weight:"bold",fill:"#000"}));

// ---- Panel A
const A=svg.append("g");
const xA=d3.scaleLinear().domain([-3.77,3.78]).range([84.8,1650]);
const yA=d3.scaleLinear().domain([0,10.4]).range([603.6,56.9]);
const blackAll=blackDots.concat(blackDotsDense,blackDotsUpper);
const blackPairs=d3.range(0,blackAll.length,2).map(i=>[blackAll[i],blackAll[i+1]]);
A.append("g").selectAll("circle").data(blackPairs).join("circle").attr("cx",d=>xA(d[0])).attr("cy",d=>yA(d[1])).attr("r",.95).attr("fill","#000");
const moundArea=d3.area().x(d=>xA(d[0])).y0(yA(0)).y1(d=>yA(d[1]));
A.append("path").attr("d",moundArea(d3.zip(moundLeftFC,moundLeftQ))).attr("fill","#000");
A.append("path").attr("d",moundArea(d3.zip(moundRightFC,moundRightQ))).attr("fill","#000");
A.append("line").attr("x1",xA(cutoffFC[0])).attr("x2",xA(cutoffFC[0])).attr("y1",56).attr("y2",603).attr("stroke","#2fb52e").attr("stroke-width",3).attr("stroke-dasharray","8 5");
A.append("line").attr("x1",xA(cutoffFC[1])).attr("x2",xA(cutoffFC[1])).attr("y1",56).attr("y2",603).attr("stroke","#cc1020").attr("stroke-width",3).attr("stroke-dasharray","8 5");
A.append("line").attr("x1",84).attr("x2",1650).attr("y1",yA(cutoffQ)).attr("y2",yA(cutoffQ)).attr("stroke","#2a52a8").attr("stroke-width",3).attr("stroke-dasharray","10 6");
A.append("g").selectAll("circle").data(greenPoints).join("circle").attr("cx",d=>xA(d[0])).attr("cy",d=>yA(d[1])).attr("r",3.3).attr("fill","#5cb531");
A.append("g").selectAll("circle").data(redPoints).join("circle").attr("cx",d=>xA(d[0])).attr("cy",d=>yA(d[1])).attr("r",3.5).attr("fill","#f40000");
const marked=markedNames.map((n,i)=>({n,x:markedFC[i],y:markedQ[i],g:markedGroup[i]}));
A.append("g").selectAll("g").data(marked).join(function(en){return en.append("g").each(function(d){
  const s=d3.select(this),px=xA(d.x),py=yA(d.y);
  if(d.g==="gs")s.append("rect").attr("x",px-8.5).attr("y",py-8.5).attr("width",17).attr("height",17).attr("fill","#005000").attr("stroke","#000").attr("stroke-width",1.5);
  else s.append("circle").attr("cx",px).attr("cy",py).attr("r",8.5).attr("fill",d.g==="gc"?"#5cb531":"#f40000").attr("stroke","#000").attr("stroke-width",1.5);
});});
const labelOffsets={Sox6:[0,-10],Aldh1a1:[-3,-11],Kcns3:[0,-11],Satb1:[2,-11],Fgf20:[2,-11],Kcmp3:[-42,1],Syt17:[25,-13],Rit2:[2,-13],Fxyd6:[0,23],Ngb:[3,-13],Vglut2:[-1,-11]};
marked.forEach(d=>{const o=labelOffsets[d.n];txt(A,d.n,xA(d.x)+o[0],yA(d.y)+o[1],19.5,{fill:"#000"});});
A.append("line").attr("x1",xA.range()[0]).attr("x2",xA.range()[0]).attr("y1",56).attr("y2",605).attr("stroke","#000").attr("stroke-width",3);
A.append("line").attr("x1",83).attr("x2",1650).attr("y1",yA(0)).attr("y2",yA(0)).attr("stroke","#000").attr("stroke-width",3);
const axXA=A.append("g").attr("transform",`translate(0,${yA(0)})`).call(d3.axisBottom(xA).tickValues(xTickValues).tickFormat((d,i)=>xTickLabels[i]).tickSize(4).tickPadding(12));
axXA.select(".domain").remove();axXA.selectAll("text").attr("font-size",19.5).attr("fill","#222").attr("font-family","'Liberation Sans'");
const axYA=A.append("g").attr("transform",`translate(${xA.range()[0]},0)`).call(d3.axisLeft(yA).tickValues(yTickValues).tickFormat((d,i)=>yTickLabels[i]).tickSize(4).tickPadding(9));
axYA.select(".domain").remove();axYA.selectAll("text").attr("font-size",19.5).attr("fill",(d,i)=>d===1?"#3a5fb0":"#222").attr("font-family","'Liberation Sans'");
txt(A,"Enriched in Sox6+ neurons",434.5,45,26.5,{fill:"#5cb531"});
txt(A,"Enriched in Sox6- neurons",1260,45,26.5,{fill:"#e8112d"});
const xl=txt(A,"log",866,666,23,{fill:"#111"});xl.append("tspan").attr("dy",5).attr("font-size",14).text("2");xl.append("tspan").attr("dy",-5).text(" fold change");
const yl=txt(A,"log",37,289,23,{rotate:-90});yl.append("tspan").attr("dy",5).attr("font-size",14).text("10");yl.append("tspan").attr("dy",-5).text(" q-value");

// ---- Panel B
const B=svg.append("g");
const colBand=d3.scaleBand().domain(d3.range(6)).range([90,430.7]);
const rowBand=d3.scaleBand().domain(genes).range([809.3,1788.3]);
const heatColor=d3.scaleLinear().domain(heatDomain).range(heatColors);
B.append("g").selectAll("g").data(heatValues).join("g").each(function(row,i){
  d3.select(this).selectAll("rect").data(row).join("rect").attr("x",(d,j)=>colBand(j)).attr("y",rowBand(genes[i])).attr("width",colBand.bandwidth()).attr("height",rowBand.bandwidth()+.3).attr("fill",d=>heatColor(d));
});
B.append("g").selectAll("text").data(genes).join("text").attr("transform",d=>`translate(434,${rowBand(d)+rowBand.bandwidth()/2+3.9}) scale(1.16,1)`).attr("font-size",12.2).attr("fill",d=>highlightedGenes.includes(d)?"#000":"#858585").text(d=>d);
B.append("g").selectAll("rect").data(sampleColors).join("rect").attr("x",(d,i)=>colBand(i)).attr("y",781).attr("width",colBand.bandwidth()).attr("height",16.3).attr("fill",d=>d).attr("stroke","#444").attr("stroke-width",.8);
function drawTree(node,pos,hPos,g){ if(typeof node==="number")return{p:pos(node),h:hPos(0)};
  const a=drawTree(node[1],pos,hPos,g),b=drawTree(node[2],pos,hPos,g),h=hPos(node[0]);
  g.push({a,b,h});return{p:(a.p+b.p)/2,h};}
const topSegs=[],rowSegs=[];
const topH=d3.scaleLinear().domain([0,1]).range([781,745.3]);
drawTree(sampleTree,i=>colBand(i)+colBand.bandwidth()/2,topH,topSegs);
const rowH=d3.scaleLinear().domain([0,1]).range([90,44.7]);
drawTree(rowTree,i=>rowBand(genes[i])+rowBand.bandwidth()/2,rowH,rowSegs);
B.append("g").selectAll("path").data(topSegs).join("path").attr("fill","none").attr("stroke","#222").attr("stroke-width",1.6).attr("d",s=>`M${s.a.p},${s.a.h}V${s.h}H${s.b.p}V${s.b.h}`);
B.append("g").selectAll("path").data(rowSegs).join("path").attr("fill","none").attr("stroke","#222").attr("stroke-width",1.6).attr("d",s=>`M${s.a.h},${s.a.p}H${s.h}V${s.b.p}H${s.b.h}`);
txt(B,"Sox6+",78,755,22.8,{anchor:"start",weight:"bold",fill:"#6aa524"});
txt(B,"Sox6-",361,755,22.8,{anchor:"start",weight:"bold",fill:"#a0132f"});

// ---- Panel C
const gseaSeries=[
 {rank:esRespRank,es:esRespVal,hits:hitsResp,dom:[-.337,.564],x:[648,990.7],r:[1041.7,783.3],hit:[968.3,1024],bar:[1026,1041.7],tb:776,sb:1071.7,lx:0,tx:819.5},
 {rank:esComplexRank,es:esComplexVal,hits:hitsComplex,dom:[-.395,.593],x:[648,990.7],r:[1402.7,1143.3],hit:[1328.3,1383.3],bar:[1386,1401.7],tb:1135.5,sb:1431.7,lx:0,tx:819.4},
 {rank:esParkRank,es:esParkVal,hits:hitsPark,dom:[-.282,.496],x:[649.3,992],r:[1762.7,1503.3],hit:[1688.7,1744],bar:[1746.7,1761.7],tb:1495,sb:1790.7,lx:1.3,tx:820.7}];
gseaSeries.forEach((p,k)=>{
  const g=svg.append("g"),x=d3.scaleLinear().domain([0,1]).range(p.x),y=d3.scaleLinear().domain(p.dom).range(p.r);
  esTicks.slice(1).forEach(v=>g.append("line").attr("x1",x(0)+2).attr("x2",x(.99)).attr("y1",y(v)).attr("y2",y(v)).attr("stroke","#c6c6c6").attr("stroke-width",1.5).attr("stroke-dasharray","10 7"));
  g.append("line").attr("x1",x(0)).attr("x2",x(1)).attr("y1",y(0)).attr("y2",y(0)).attr("stroke","#bbb").attr("stroke-width",2.4);
  g.append("path").attr("d",d3.line().x(d=>x(d[0])).y(d=>y(d[1]))(d3.zip(p.rank,p.es))).attr("fill","none").attr("stroke","#222").attr("stroke-width",4.5).attr("stroke-linejoin","round");
  g.selectAll(".h").data(p.hits).join("line").attr("x1",d=>x(d)).attr("x2",d=>x(d)).attr("y1",p.hit[0]).attr("y2",p.hit[1]).attr("stroke","#000").attr("stroke-opacity",.62).attr("stroke-width",1.2);
  g.selectAll(".b").data(rankColors).join("rect").attr("x",(d,i)=>x(rankBreaks[i])).attr("width",(d,i)=>x(rankBreaks[i+1])-x(rankBreaks[i])).attr("y",p.bar[0]).attr("height",p.bar[1]-p.bar[0]).attr("fill",d=>d);
  g.append("line").attr("x1",x(0)).attr("x2",x(1)).attr("y1",p.r[0]).attr("y2",p.r[0]).attr("stroke","#555").attr("stroke-width",1.4);
  g.append("line").attr("x1",x(0)).attr("x2",x(0)).attr("y1",p.r[1]).attr("y2",p.r[0]).attr("stroke","#111").attr("stroke-width",3);
  esTicks.forEach((v,i)=>txt(g,esTickLabels[i],x(0)-8,y(v)+7,19.5,{anchor:"end",fill:"#222"}));
  txt(g,gseaNames[k],p.tx,p.tb,23,{fill:"#111"});
  txt(g,"Sox6+",669.3+p.lx,p.sb,23,{anchor:"start",weight:"bold",fill:"#6aa524"});
  g.append("line").attr("x1",742.7+p.lx).attr("x2",896+p.lx).attr("y1",p.sb-8).attr("y2",p.sb-8).attr("stroke","#222").attr("stroke-width",1.5);
  txt(g,"Sox6-",905.7+p.lx,p.sb,23,{anchor:"start",weight:"bold",fill:"#a0132f"});
});
txt(svg,"GSEA Enrichment Scores (ES)",593,1285,23.5,{rotate:-90}).attr("textLength",280).attr("lengthAdjust","spacingAndGlyphs");

// ---- Panel D
const D=svg.append("g");
const xD=d3.scaleLinear().domain([1.8,2.2]).range([1356.6,1633.6]);
const yD=d3.scalePoint().domain(d3.range(11)).range([816.7,1679.7]);
const rQ=d3.scaleLinear().domain([-Math.log10(.05),-Math.log10(.01),-Math.log10(.001)]).range([16,20.8,25]);
D.selectAll(".g").data(nesTicks).join("line").attr("x1",d=>xD(d)).attr("x2",d=>xD(d)).attr("y1",767).attr("y2",1730).attr("stroke","#777").attr("stroke-width",1.4).attr("stroke-dasharray","7 4");
D.append("line").attr("x1",1306.3).attr("x2",1306.3).attr("y1",765).attr("y2",1732).attr("stroke","#000").attr("stroke-width",3);
D.append("line").attr("x1",1305).attr("x2",1650).attr("y1",1730.8).attr("y2",1730.8).attr("stroke","#000").attr("stroke-width",3);
pathways.forEach((lines,i)=>{
  D.append("line").attr("x1",1299.5).attr("x2",1306).attr("y1",yD(i)).attr("y2",yD(i)).attr("stroke","#000").attr("stroke-width",1.8);
  const bold=boldPathways.includes(i),n=lines.length,right=i===0?1287:1291.5;
  lines.forEach((s,j)=>txt(D,s,right,yD(i)+(j-(n-1)/2)*23.7+5,19.8,{anchor:"end",weight:bold?"bold":"normal",fill:bold?"#000":"#444"}));
});
D.selectAll(".c").data(nes).join("circle").attr("cx",d=>xD(d)).attr("cy",(d,i)=>yD(i)).attr("r",(d,i)=>rQ(-Math.log10(fdrQ[i]))).attr("fill","#80cc44").attr("stroke","#000").attr("stroke-width",1.5);
nesTicks.forEach(t=>txt(D,t.toFixed(1),xD(t),1753,19.5,{fill:"#222"}));
txt(D,"GSEA Pathways",1193,1791,23);
txt(D,"Normalized Enrichment Score",1477.5,1791,23);
D.append("rect").attr("x",1520).attr("y",1503).attr("width",139.6).attr("height",198.4).attr("fill","#fff").attr("stroke","#000").attr("stroke-width",1.5);
txt(D,"FDR q−Value",1590,1528.6,19.8,{fill:"#000"});
const legY=[1572.6,1627.7,1674],legTextY=[1579,1635,1681];
legendQ.forEach((q,i)=>{D.append("circle").attr("cx",1560.2).attr("cy",legY[i]).attr("r",rQ(-Math.log10(q))).attr("fill","#80cc44").attr("stroke","#000").attr("stroke-width",1.5);
  txt(D,legendQLabels[i],1598,legTextY[i],19,{anchor:"start",fill:"#111"});});
</script></body></html>
